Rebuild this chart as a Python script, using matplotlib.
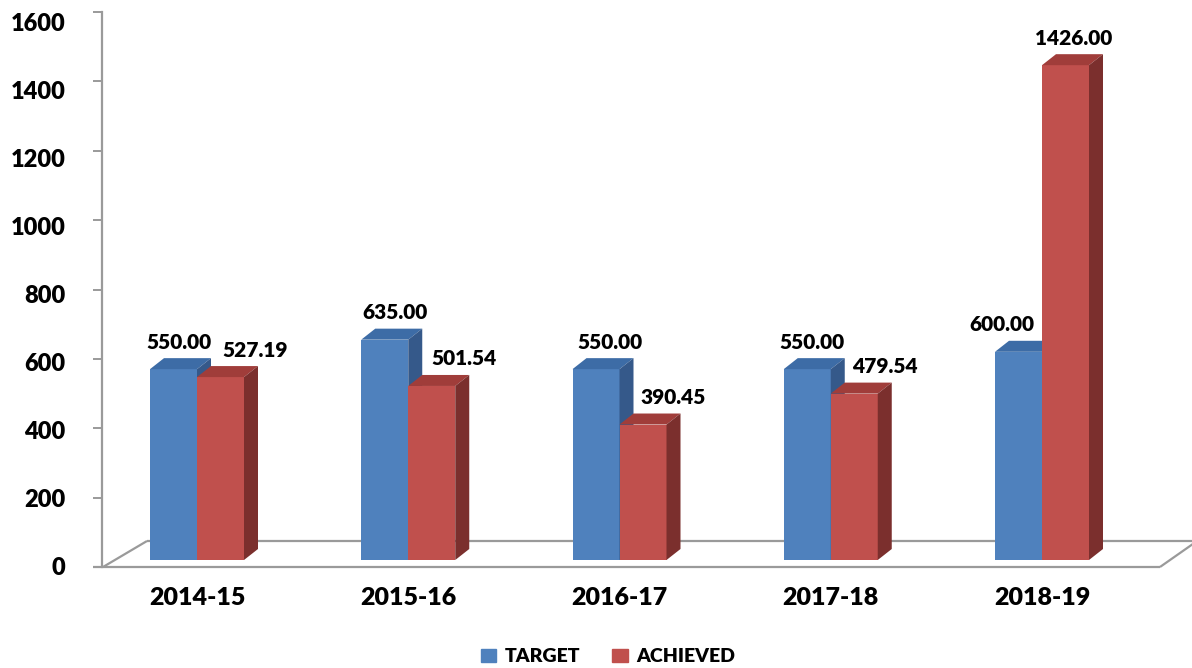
#!/usr/bin/env python3
"""Target vs achieved, drawn as a pseudo-3D clustered column chart."""

import matplotlib

matplotlib.use("Agg")
import matplotlib.pyplot as plt
from matplotlib.patches import Patch, Polygon
from matplotlib.transforms import ScaledTranslation, blended_transform_factory

plt.rcParams["font.family"] = ["Lato", "DejaVu Sans"]
WEIGHT = "heavy"

YEARS = ["2014-15", "2015-16", "2016-17", "2017-18", "2018-19"]
TARGET = [550.00, 635.00, 550.00, 550.00, 600.00]
ACHIEVED = [527.19, 501.54, 390.45, 479.54, 1426.00]
Y_TICKS = [0, 200, 400, 600, 800, 1000, 1200, 1400, 1600]

# canvas geometry (pixels)
W, H = 1192, 668
PX_ORIGIN = 197.0      # x pixel of first category centre
PX_PER_CAT = 211.25
PY_ZERO = 560.0        # y pixel of value 0 on the bar fronts
PX_PER_UNIT = 0.347
BAR_PX = 47.0
DEPTH_PX = (14.0, 11.0)

BLUE = {"front": "#4F81BD", "top": "#3D6CA6", "side": "#35598A"}
RED = {"front": "#C0504D", "top": "#A03D3A", "side": "#7B2F2D"}
GRID_GREY = "#9a9a9a"

# label nudges in pixels (x) to mimic the original layout
BLUE_LABEL_DX = [5, 10, 14, 5, -17]
RED_LABEL_DX = [35, 32, 30, 31, 8]
LABEL_DY = 27


def to_data(px, py):
    return (px - PX_ORIGIN) / PX_PER_CAT, (PY_ZERO - py) / PX_PER_UNIT


def draw_bar(ax, x_left, width, height, colors, dx, dy):
    ax.bar(x_left, height, width=width, align="edge", color=colors["front"],
           linewidth=0, zorder=3)
    x_right = x_left + width
    top = Polygon([(x_left, height), (x_right, height),
                   (x_right + dx, height + dy), (x_left + dx, height + dy)],
                  closed=True, facecolor=colors["top"], linewidth=0, zorder=3)
    side = Polygon([(x_right, 0), (x_right + dx, dy),
                    (x_right + dx, height + dy), (x_right, height)],
                   closed=True, facecolor=colors["side"], linewidth=0, zorder=3)
    ax.add_patch(top)
    ax.add_patch(side)


def main():
    fig = plt.figure(figsize=(W / 100, H / 100), dpi=100)
    ax = fig.add_axes([0, 0, 1, 1])
    ax.set_xlim(-PX_ORIGIN / PX_PER_CAT, (W - PX_ORIGIN) / PX_PER_CAT)
    ax.set_ylim((PY_ZERO - H) / PX_PER_UNIT, PY_ZERO / PX_PER_UNIT)
    ax.axis("off")

    # floor outline
    floor = [((93, 567), (1160, 567)), ((103, 567), (147, 541)),
             ((147, 541), (1200, 541)), ((1160, 567), (1200, 539))]
    for p0, p1 in floor:
        (x0, y0), (x1, y1) = to_data(*p0), to_data(*p1)
        ax.plot([x0, x1], [y0, y1], color=GRID_GREY, lw=1.6, zorder=1,
                solid_capstyle="butt")

    bw = BAR_PX / PX_PER_CAT
    dx = DEPTH_PX[0] / PX_PER_CAT
    dy = DEPTH_PX[1] / PX_PER_UNIT
    for i, (t, a) in enumerate(zip(TARGET, ACHIEVED)):
        draw_bar(ax, i - bw, bw, t, BLUE, dx, dy)
        draw_bar(ax, i, bw, a, RED, dx, dy)
        for x_c, val, ddx in ((i - bw / 2, t, BLUE_LABEL_DX[i]),
                              (i + bw / 2, a, RED_LABEL_DX[i])):
            ax.annotate(f"{val:.2f}", xy=(x_c, val),
                        xytext=(ddx * 0.72, LABEL_DY * 0.72),
                        textcoords="offset points", ha="center", va="center",
                        fontsize=15, fontweight=WEIGHT, zorder=5)

    trans = blended_transform_factory(ax.transData, ax.transAxes)
    for i, year in enumerate(YEARS):
        ax.text(i, 1 - 598 / H, year, transform=trans, ha="center",
                va="center", fontsize=18, fontweight=WEIGHT)

    # value axis
    ax_y = fig.add_axes([102 / W, (H - 567) / H, 0.01, (567 - 12) / H])
    ax_y.patch.set_alpha(0)
    ax_y.set_ylim(0, 1600)
    ax_y.set_yticks(Y_TICKS)
    ax_y.set_yticklabels([str(v) for v in Y_TICKS], fontsize=17,
                         fontweight=WEIGHT)
    ax_y.set_xticks([])
    for name in ("top", "right", "bottom"):
        ax_y.spines[name].set_visible(False)
    ax_y.spines["left"].set_color(GRID_GREY)
    ax_y.spines["left"].set_linewidth(1.6)
    ax_y.tick_params(axis="y", direction="out", length=6.5, width=1.4,
                     color=GRID_GREY, pad=20)
    # the labels sit on the front plane, slightly below the wall ticks
    for v, lab in zip(Y_TICKS, ax_y.get_yticklabels()):
        shift = (v / 1600 * 11 - 1) / 100
        lab.set_transform(lab.get_transform()
                          + ScaledTranslation(0, -shift, fig.dpi_scale_trans))

    handles = [Patch(color=BLUE["front"], label="TARGET"),
               Patch(color=RED["front"], label="ACHIEVED")]
    fig.legend(handles=handles, loc="center", bbox_to_anchor=(608 / W, 1 - 657 / H),
               ncol=2, frameon=False, handlelength=0.82, handleheight=0.67,
               handletextpad=0.45, columnspacing=1.6,
               prop={"weight": WEIGHT, "size": 14})

    fig.savefig("out.png", dpi=100)
    plt.close(fig)


if __name__ == "__main__":
    main()
